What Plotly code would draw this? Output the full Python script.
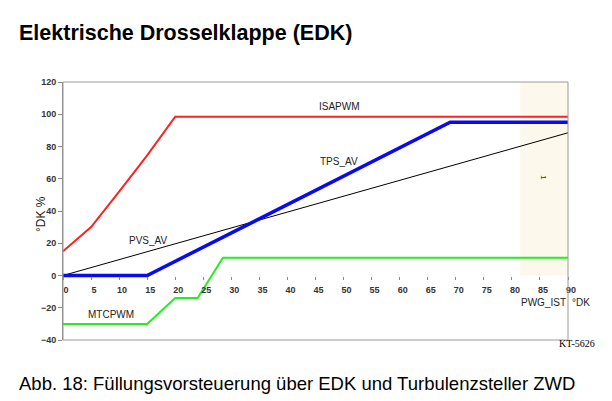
import plotly.graph_objects as go

# Data (x = PWG_IST in °DK, y = °DK %)
isapwm_x = [0, 5, 10, 15, 20, 90]
isapwm_y = [15, 30, 52, 74.5, 98.5, 98.5]

tps_x = [0, 15, 69, 90]
tps_y = [0, 0, 95, 95]

pvs_x = [0, 90]
pvs_y = [0, 88.5]

mtc_x = [0, 15, 20, 24, 28.5, 90]
mtc_y = [-30, -30, -14, -14, 11, 11]

x_ticks = list(range(0, 95, 5))
y_ticks = list(range(-40, 140, 20))

zone_x = [81.5, 90]
zone_y = [0, 120]

PW, PH = 505, 258   # plot area size in px
L, B = 63, 340      # plot left / bottom px


def px(x):
    return (x - L) / PW


def py(y):
    return (B - y) / PH


fig = go.Figure()

# shaded zone
fig.add_shape(type="rect", xref="x", yref="y", x0=zone_x[0], x1=zone_x[1], y0=zone_y[0], y1=zone_y[1],
              fillcolor="#FCF8EC", line=dict(width=0), layer="below")

fig.add_trace(go.Scatter(x=pvs_x, y=pvs_y, mode="lines", line=dict(color="black", width=1), name="PVS_AV"))
fig.add_trace(go.Scatter(x=isapwm_x, y=isapwm_y, mode="lines", line=dict(color="#FF2020", width=2), name="ISAPWM"))
fig.add_trace(go.Scatter(x=mtc_x, y=mtc_y, mode="lines", line=dict(color="#22EE22", width=2), name="MTCPWM"))
fig.add_trace(go.Scatter(x=tps_x, y=tps_y, mode="lines", line=dict(color="#0A0AF0", width=3.5), name="TPS_AV"))

# frame
fig.add_shape(type="rect", xref="paper", yref="paper", x0=0, x1=1, y0=0, y1=1,
              line=dict(color="#9A9A9A", width=1))

lab_font = dict(family="Liberation Sans, Arial", size=10, color="#222")
for txt, x, y in [("ISAPWM", 49.2, 104.5), ("TPS_AV", 49.2, 71), ("PVS_AV", 15.2, 21.5), ("MTCPWM", 8.6, -24.3)]:
    fig.add_annotation(x=x, y=y, text=txt, showarrow=False, font=lab_font, xref="x", yref="y")

fig.add_annotation(x=85.5, y=60.5, text="1", showarrow=False, textangle=90,
                   font=dict(family="Liberation Sans, Arial", size=8, color="#333"))

fig.add_annotation(x=85.7, y=-16.7, text="PWG_IST", showarrow=False, font=lab_font)
fig.add_annotation(x=px(581), y=py(302.7), xref="paper", yref="paper", text="°DK", showarrow=False,
                   xanchor="center", yanchor="middle", font=lab_font)

fig.add_annotation(x=px(41), y=py(214), xref="paper", yref="paper", text="°DK %", textangle=-90,
                   xanchor="center", yanchor="middle",
                   showarrow=False, font=dict(family="Liberation Sans, Arial", size=12, color="#222"))

fig.add_annotation(x=px(597), y=py(343), xref="paper", yref="paper", text="KT-5626",
                   xanchor="right", yanchor="middle", showarrow=False,
                   font=dict(family="Liberation Serif, Times New Roman", size=10, color="black"))

fig.add_annotation(x=px(17), y=py(33), xref="paper", yref="paper",
                   text="<b>Elektrische Drosselklappe (EDK)</b>", xanchor="left", yanchor="middle",
                   showarrow=False, font=dict(family="Liberation Sans, Arial", size=21.5, color="black"))

fig.add_annotation(x=px(17), y=py(383), xref="paper", yref="paper",
                   text="Abb. 18: Füllungsvorsteuerung über EDK und Turbulenzsteller ZWD", xanchor="left",
                   yanchor="middle", showarrow=False,
                   font=dict(family="Liberation Sans, Arial", size=18.5, color="black"))

fig.update_layout(
    width=612, height=401,
    margin=dict(l=63, r=44, t=82, b=61),
    paper_bgcolor="white", plot_bgcolor="white",
    showlegend=False,
    xaxis=dict(range=[0, 90], tickvals=x_ticks, showgrid=False, zeroline=False, showline=False,
               anchor="free", position=0.25, ticks="outside", ticklen=3, tickcolor="#888",
               ticklabelshift=3, ticklabelstandoff=3,
               tickfont=dict(family="Liberation Sans, Arial", size=9, color="#333", weight="bold")),
    yaxis=dict(range=[-40, 120], tickvals=y_ticks, showgrid=False, zeroline=False,
               showline=True, linecolor="#888", linewidth=1, ticks="outside", ticklen=4, tickcolor="#888",
               tickfont=dict(family="Liberation Sans, Arial", size=9, color="#333", weight="bold")),
    font=dict(family="Liberation Sans, Arial"),
)

fig.write_html("out.html")
